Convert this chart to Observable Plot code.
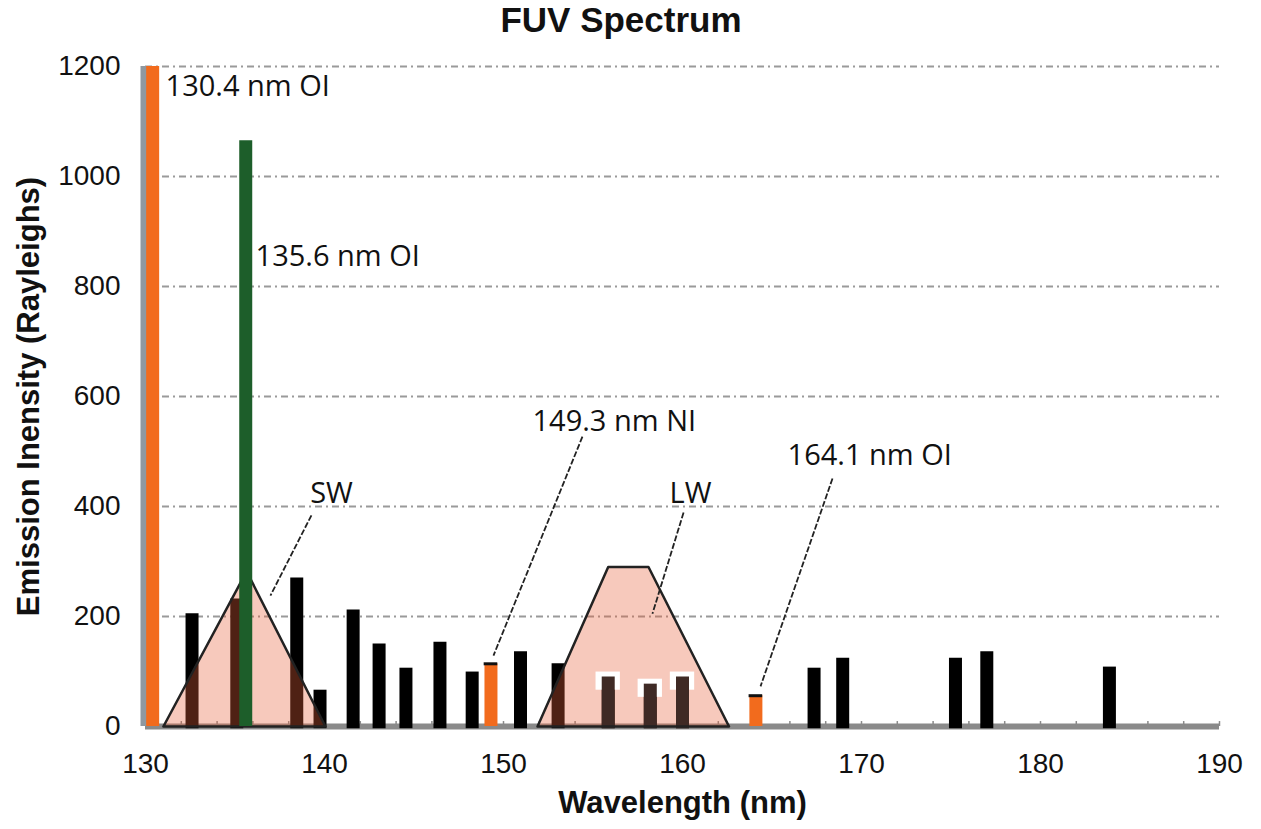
<!DOCTYPE html>
<html><head><meta charset="utf-8">
<script src="https://cdn.jsdelivr.net/npm/d3@7"></script>
<script src="https://cdn.jsdelivr.net/npm/@observablehq/plot@0.6"></script>
<style>
body{margin:0;background:#fff;width:1261px;height:829px;overflow:hidden}
#title{height:50px;line-height:50px;font:bold 35px "Liberation Sans",Arial,sans-serif;text-align:center;padding-right:19px;color:#111;white-space:nowrap}
#chart svg{display:block}
</style></head><body>
<div id="title">FUV Spectrum</div>
<div id="chart"></div>
<script>
// ---- data ----
const xTicks = [130, 140, 150, 160, 170, 180, 190];
const yTicks = [0, 200, 400, 600, 800, 1000, 1200];
const gridValues = [200, 400, 600, 800, 1000, 1200];
const minorTicks = [132,134,136,138,140,142,144,146,148,150,152,154,156,158,160,162,164,166,168,170,172,174,176,178,180,182,184,186,188,190];

const blackWavelengths = [132.6, 135.1, 138.45, 139.75, 141.6, 143.05, 144.55, 146.45, 148.25, 150.95, 153.05, 155.85, 158.2, 160.0, 167.35, 168.95, 175.25, 177.0, 183.85];
const blackIntensities = [205, 232, 270, 66, 212, 150, 106, 153, 99, 136, 114, 90, 77, 90, 106, 124, 124, 136, 108];

const orangeWavelengths = [130.4, 149.3, 164.1];
const orangeIntensities = [1200, 114, 56];

const greenWavelengths = [135.6];
const greenIntensities = [1065];

const swX = [131.0, 135.65, 140.05];
const swY = [0, 282, 0];
const lwX = [151.9, 155.85, 158.1, 162.6];
const lwY = [0, 290, 290, 0];

const labelText = ["130.4 nm OI", "135.6 nm OI", "149.3 nm NI", "164.1 nm OI"];
const labelX = [131.12, 136.15, 151.62, 165.87];
const labelY = [1147, 838, 538, 476];

const bandText = ["SW", "LW"];
const bandX = [140.39, 160.45];
const bandY = [407, 407];

const leaderX1 = [139.27, 154.41, 160.06, 168.38];
const leaderY1 = [384, 527, 389, 451];
const leaderX2 = [136.98, 149.44, 158.32, 164.36];
const leaderY2 = [238, 129, 205, 73];

const xLabel = "Wavelength (nm)";
const yLabel = "Emission Inensity (Rayleighs)";

// ---- tables ----
const black = blackWavelengths.map((x, i) => ({x, v: blackIntensities[i]}));
const orange = orangeWavelengths.map((x, i) => ({x, v: orangeIntensities[i]}));
const green = greenWavelengths.map((x, i) => ({x, v: greenIntensities[i]}));
const sw = swX.map((x, i) => ({x, y: swY[i]}));
const lw = lwX.map((x, i) => ({x, y: lwY[i]}));
const swClosed = [...sw, sw[0]];
const lwClosed = [...lw, lw[0]];
const lwInner = black.filter(d => d.x > lwX[1] - 0.5 && d.x < lwX[2] + 2.5);
const labels = labelText.map((t, i) => ({t, x: labelX[i], y: labelY[i]}));
const bands = bandText.map((t, i) => ({t, x: bandX[i], y: bandY[i]}));
const leaders = leaderX1.map((x1, i) => ({x1, y1: leaderY1[i], x2: leaderX2[i], y2: leaderY2[i]}));
const orangeSmall = orange.filter(d => d.v < 1000);

const annFont = "'Open Sans', 'Noto Sans', sans-serif";

const plot = Plot.plot({
  width: 1261, height: 779,
  marginLeft: 145, marginRight: 42, marginTop: 16, marginBottom: 103,
  x: {domain: [130, 190]},
  y: {domain: [0, 1200]},
  style: {fontFamily: "'Liberation Sans', Arial, sans-serif", color: "#111", background: "#fff", overflow: "visible"},
  marks: [
    Plot.ruleY(gridValues, {stroke: "#9a9a9a", strokeWidth: 2, strokeDasharray: "7,4,2,4"}),
    Plot.ruleY([0], {x1: 130, x2: 190, stroke: "#8a8a8a", strokeWidth: 6}),
    Plot.ruleX(minorTicks, {y1: 0, y2: 9, stroke: "#8a8a8a", strokeWidth: 1.5}),
    Plot.ruleX(black, {x: "x", y1: -4, y2: "v", stroke: "#000", strokeWidth: 13}),
    Plot.areaY(sw, {x: "x", y: "y", fill: "#e8623a", fillOpacity: 0.34}),
    Plot.areaY(lw, {x: "x", y: "y", fill: "#e8623a", fillOpacity: 0.34}),
    Plot.rect(lwInner, {x1: d => d.x - 0.68, x2: d => d.x + 0.68, y1: d => d.v - 24, y2: d => d.v + 9, fill: "#fff"}),
    Plot.ruleX(lwInner, {x: "x", y1: -4, y2: "v", stroke: "#3f2a25", strokeWidth: 13}),
    Plot.line(swClosed, {x: "x", y: "y", stroke: "#222", strokeWidth: 2.5}),
    Plot.line(lwClosed, {x: "x", y: "y", stroke: "#222", strokeWidth: 2.5}),
    Plot.ruleX([130], {y1: 0, y2: 1200, stroke: "#8f98a0", strokeWidth: 7, dx: -1.5}),
    Plot.ruleX(orange, {x: "x", y1: 0, y2: "v", stroke: "#f26b1d", strokeWidth: 13}),
    Plot.ruleY(orangeSmall, {y: "v", x1: d => d.x - 0.38, x2: d => d.x + 0.38, stroke: "#111", strokeWidth: 3}),
    Plot.ruleX(green, {x: "x", y1: 0, y2: "v", stroke: "#1d5e2a", strokeWidth: 13}),
    Plot.link(leaders, {x1: "x1", y1: "y1", x2: "x2", y2: "y2", stroke: "#222", strokeWidth: 1.8, strokeDasharray: "6,2"}),
    Plot.text(labels, {x: "x", y: "y", text: "t", textAnchor: "start", lineAnchor: "bottom", fontFamily: annFont, fontSize: 29, fill: "#111"}),
    Plot.text(bands, {x: "x", y: "y", text: "t", textAnchor: "middle", lineAnchor: "bottom", fontFamily: annFont, fontSize: 29, fill: "#111"}),
    Plot.axisX({ticks: xTicks, tickSize: 0, tickPadding: 27, fontSize: 28, label: null, tickFormat: "d"}),
    Plot.axisY({ticks: yTicks, tickSize: 0, tickPadding: 25, fontSize: 28, label: null, tickFormat: "d"}),
    Plot.text([yLabel], {frameAnchor: "left", textAnchor: "middle", dx: -116, rotate: -90, fontSize: 31, fontWeight: "bold", lineAnchor: "middle", fill: "#111"}),
    Plot.text([xLabel], {frameAnchor: "bottom", textAnchor: "middle", dy: 77, fontSize: 31, fontWeight: "bold", lineAnchor: "middle", fill: "#111"})
  ]
});
document.getElementById("chart").appendChild(plot);
</script></body></html>
